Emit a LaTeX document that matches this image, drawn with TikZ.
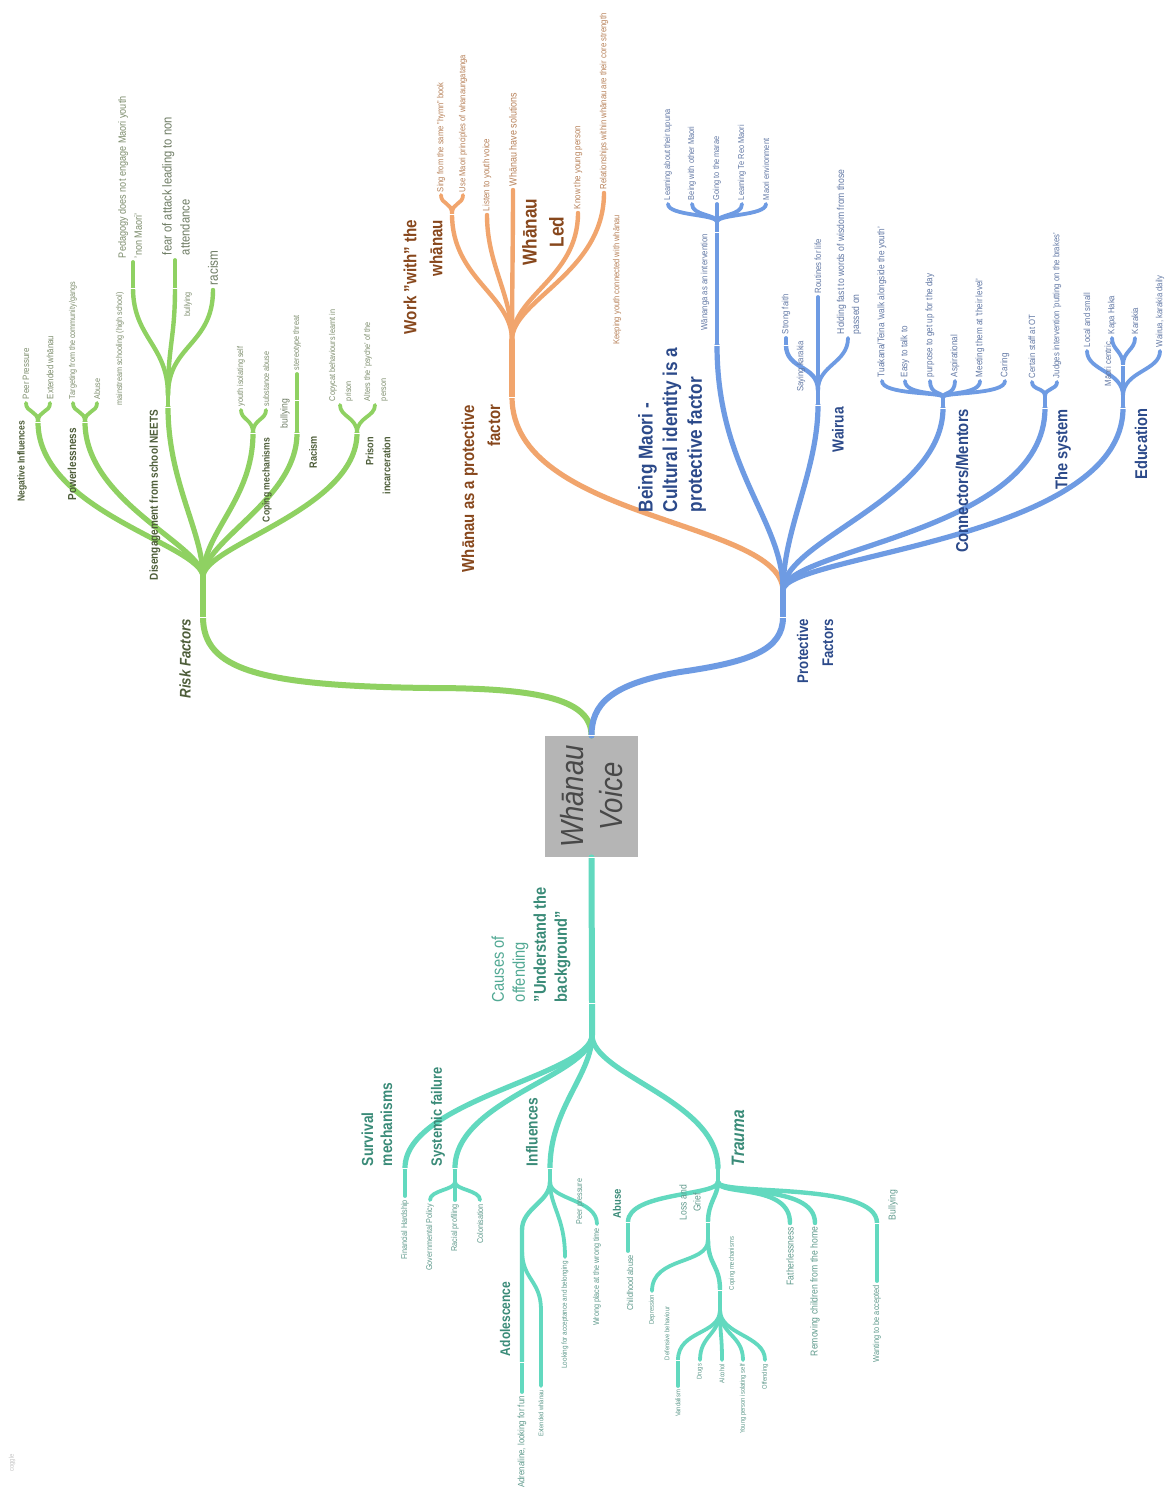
\documentclass[tikz,border=0pt]{standalone}
\usepackage{fontspec}
\setmainfont{Liberation Sans}[FakeStretch=0.86]
\newcommand{\fz}[2]{\fontsize{#1pt}{#2pt}\selectfont}
\newcommand{\brkmark}[1]{\draw[white, line width=0.5pt] (#1) ++(-4,0) -- ++(8,0);}

\definecolor{gLine}{HTML}{8FD162}
\definecolor{gDark}{HTML}{4E5E3A}
\definecolor{gText}{HTML}{7E8E6E}
\definecolor{gMid}{HTML}{6E7C64}
\definecolor{oLine}{HTML}{F1A56D}
\definecolor{oDark}{HTML}{87471C}
\definecolor{oText}{HTML}{B8825A}
\definecolor{bLine}{HTML}{6E9BE3}
\definecolor{bDark}{HTML}{2C4A8A}
\definecolor{bText}{HTML}{6379A5}
\definecolor{tLine}{HTML}{62D9BF}
\definecolor{tDark}{HTML}{3A8B78}
\definecolor{tSoft}{HTML}{52A994}
\definecolor{tText}{HTML}{5F9A8C}
\definecolor{hubFill}{HTML}{B5B5B5}
\definecolor{hubText}{HTML}{484848}

\begin{document}
\begin{tikzpicture}[x=0.5pt, y=-0.5pt,
  ln/.style={line cap=round, line join=round},
  w1/.style={ln, line width=3pt},
  w2/.style={ln, line width=2.6pt},
  w3/.style={ln, line width=2.2pt},
  w4/.style={ln, line width=1.9pt},
  rot/.style={rotate=90, inner sep=0pt, outer sep=0pt},
  % green tree text
  gB/.style={rot, text=gDark, font=\bfseries\fz{5.3}{8.5}},
  gL/.style={rot, text=gText, font=\fz{4.2}{8}},
  gM/.style={rot, text=gMid, font=\fz{6.5}{9}},
  % orange tree text
  oB/.style={rot, text=oDark, font=\bfseries\fz{8.7}{13}},
  oL/.style={rot, text=oText, font=\fz{4.4}{6}},
  % blue tree text
  bB/.style={rot, text=bDark, font=\bfseries\fz{8.5}{12}},
  bL/.style={rot, text=bText, font=\fz{4.5}{7.5}},
  % teal tree text
  tB/.style={rot, text=tDark, font=\bfseries\fz{8}{9.5}},
  tL/.style={rot, text=tText, font=\fz{4.2}{6}},
  tS/.style={rot, text=tText, font=\fz{3.4}{5}},
  hub/.style={fill=hubFill, minimum width=46.5pt, minimum height=60.5pt, inner sep=0pt}
]
\fill[white] (0,0) rectangle (1171,1488);
\useasboundingbox (0,0) rectangle (1171,1488);

% ---------- central topic ----------
\node[hub] (hubbox) at (591.5,796.5) {};
\node[rot, text=hubText, font=\itshape\fz{16}{19.5}, align=center] (hubtext) at (hubbox.center) {Whānau\\Voice};
\coordinate (ct) at (hubbox.north);
\coordinate (cb) at (hubbox.south);

% ---------- Risk Factors (green) ----------
\coordinate (gm) at (430,688);
\coordinate (rf) at (203,617);
\coordinate (rfan) at (203,577);
\coordinate (ni) at (38,422);  \coordinate (ni1) at (26,403);  \coordinate (ni2) at (50,403);
\coordinate (pw) at (85,422);  \coordinate (pw1) at (73,403);  \coordinate (pw2) at (97,403);
\coordinate (dis) at (168,407); \coordinate (disj) at (168,395);
\coordinate (ms) at (133,288); \coordinate (ms1) at (133,262);
\coordinate (bu) at (175,288); \coordinate (bu1) at (175,260);
\coordinate (rc) at (213,290);
\coordinate (cm) at (253,433); \coordinate (cm1) at (241,410); \coordinate (cm2) at (266,410);
\coordinate (ra) at (297,433); \coordinate (rab) at (297,400); \coordinate (ra1) at (297,374);
\coordinate (pr) at (357,433); \coordinate (pr1) at (340,405); \coordinate (pr2) at (375,405);

\draw[w1, gLine] (ct) .. controls +(0,-36) and +(110,0) .. (gm) .. controls +(-170,-2) and +(0,53) .. (rf);
\draw[w1, gLine] (rf) -- (rfan);
\draw[w2, gLine] (rfan) .. controls +(0,-32) and +(0,90) .. (ni);
\draw[w2, gLine] (rfan) .. controls +(0,-32) and +(0,80) .. (pw);
\draw[w2, gLine] (rfan) .. controls +(0,-45) and +(0,75) .. (dis);
\draw[w2, gLine] (rfan) .. controls +(0,-45) and +(0,67) .. (cm);
\draw[w2, gLine] (rfan) .. controls +(0,-37) and +(0,67) .. (ra);
\draw[w2, gLine] (rfan) .. controls +(0,-32) and +(0,77) .. (pr);
\draw[w4, gLine] (ni) .. controls +(0,-12) and +(0,10) .. (ni1);
\draw[w4, gLine] (ni) .. controls +(0,-12) and +(0,10) .. (ni2);
\draw[w4, gLine] (pw) .. controls +(0,-12) and +(0,10) .. (pw1);
\draw[w4, gLine] (pw) .. controls +(0,-12) and +(0,10) .. (pw2);
\draw[w3, gLine] (dis) -- (disj);
\draw[w3, gLine] (disj) .. controls +(0,-50) and +(0,50) .. (ms);
\draw[w3, gLine] (disj) .. controls +(0,-50) and +(0,50) .. (bu);
\draw[w3, gLine] (disj) .. controls +(0,-50) and +(0,55) .. (rc);
\draw[w4, gLine] (ms) -- (ms1);
\draw[w4, gLine] (bu) -- (bu1);
\draw[w4, gLine] (cm) .. controls +(0,-14) and +(0,10) .. (cm1);
\draw[w4, gLine] (cm) .. controls +(0,-14) and +(0,10) .. (cm2);
\draw[w3, gLine] (ra) -- (rab);
\draw[w4, gLine] (rab) -- (ra1);
\draw[w4, gLine] (pr) .. controls +(0,-16) and +(0,12) .. (pr1);
\draw[w4, gLine] (pr) .. controls +(0,-16) and +(0,12) .. (pr2);

\node[gB, font=\bfseries\itshape\fz{7.7}{9}, anchor=east] (tRF) at (185,619) {Risk Factors};
\node[gB, font=\bfseries\fz{5}{6}, anchor=east] (tNI) at (22,421) {Negative Influences};
\node[gL, font=\fz{4.6}{6}, anchor=west] (tPP) at (26,399) {Peer Pressure};
\node[gL, font=\fz{4.6}{6}, anchor=west] (tEW) at (50,399) {Extended whānau};
\node[gB, font=\bfseries\fz{5.8}{8.5}, anchor=east] (tPW) at (72,428) {Powerlessness};
\node[gL, anchor=west] (tTG) at (73,399) {Targeting from the community/gangs};
\node[gL, anchor=west] (tAB) at (97,399) {Abuse};
\node[gB, font=\bfseries\fz{5.8}{8.5}, anchor=east] (tDS) at (155,410) {Disengagement from school NEETS};
\node[gL, anchor=east] (tMS) at (120,292) {mainstream schooling (high school)};
\node[gL, font=\fz{5.3}{8}, anchor=west, align=left] (tPD) at (130,258) {Pedagogy does not engage Maori youth\\'non Maori'};
\node[gL, anchor=east] (tBU) at (188,292) {bullying};
\node[gM, anchor=west, align=left] (tFA) at (176,255) {fear of attack leading to non\\attendance};
\node[gM, font=\fz{6.8}{8}, anchor=west] (tRC) at (213,285) {racism};
\node[gB, font=\bfseries\fz{5}{6}, anchor=east] (tCM) at (267,438) {Coping mechanisms};
\node[gL, anchor=west] (tYI) at (241,406) {youth isolating self};
\node[gL, anchor=west] (tSA) at (266,406) {substance abuse};
\node[gB, anchor=east] (tRA) at (313,436) {Racism};
\node[gL, font=\fz{5}{6}, text=gMid, anchor=east] (tBY) at (285,399) {bullying};
\node[gL, anchor=west] (tST) at (297,370) {stereotype threat};
\node[gB, anchor=east, align=right] (tPI) at (378,437) {Prison\\incarceration};
\node[gL, anchor=west, align=left] (tCC) at (341,401) {Copycat behaviours learnt in\\prison};
\node[gL, anchor=west, align=left] (tAP) at (376,401) {Alters the 'psyche' of the\\person};

% ---------- Protective Factors (blue) ----------
\coordinate (bq) at (680,672);
\coordinate (pf) at (783,617);
\coordinate (pf2) at (783,590);
\coordinate (bm) at (717,345); \coordinate (wn) at (717,232); \coordinate (wnj) at (717,222);
\coordinate (b1) at (668,204); \coordinate (b2) at (692,204); \coordinate (b3) at (717,204);
\coordinate (b4) at (742,204); \coordinate (b5) at (766,204);
\coordinate (wa) at (818,405); \coordinate (waj) at (818,390);
\coordinate (sk) at (786,345); \coordinate (sk1) at (786,338);
\coordinate (rt) at (818,297); \coordinate (hf) at (848,338);
\coordinate (cn) at (943,408); \coordinate (cnj) at (943,397);
\coordinate (c1) at (882,381); \coordinate (c2) at (905,381); \coordinate (c3) at (930,381);
\coordinate (c4) at (955,381); \coordinate (c5) at (980,381); \coordinate (c6) at (1005,381);
\coordinate (sy) at (1045,408); \coordinate (syj) at (1045,396);
\coordinate (sy1) at (1032,382); \coordinate (sy2) at (1057,382);
\coordinate (ed) at (1123,408); \coordinate (edj) at (1123,396);
\coordinate (ed1) at (1087,351); \coordinate (mc) at (1123,365);
\coordinate (ed2) at (1112,338); \coordinate (ed3) at (1135,338); \coordinate (ed4) at (1160,351);

% ---------- Whanau as a protective factor (orange) ----------
\coordinate (wf) at (512,397);
\coordinate (wfan) at (512,340);
\coordinate (wk) at (452,214); \coordinate (wk1) at (441,195); \coordinate (wk2) at (463,195);
\coordinate (ly) at (487,215);
\coordinate (ws) at (513,190);
\coordinate (kp) at (578,213);
\coordinate (rl) at (604,193);

\draw[w2, oLine] (pf2) .. controls +(-3,-70) and +(0,123) .. (wf);
\draw[w2, oLine] (wf) -- (wfan);
\draw[w3, oLine] (wfan) .. controls +(0,-45) and +(0,65) .. (wk);
\draw[w3, oLine] (wfan) .. controls +(0,-45) and +(0,50) .. (ly);
\draw[w3, oLine] (wfan) .. controls +(0,-45) and +(0,50) .. (ws);
\draw[w3, oLine] (wfan) .. controls +(0,-45) and +(0,65) .. (kp);
\draw[w3, oLine] (wfan) .. controls +(0,-40) and +(0,80) .. (rl);
\draw[w4, oLine] (wk) .. controls +(0,-12) and +(0,10) .. (wk1);
\draw[w4, oLine] (wk) .. controls +(0,-12) and +(0,10) .. (wk2);

\node[oB, anchor=east, align=right] (tWF) at (481,405) {Whānau as a protective\\factor};
\node[oB, font=\bfseries\fz{8.8}{13}, anchor=east, align=right] (tWK) at (423,220) {Work "with" the\\whānau};
\node[oL, anchor=west] (tSG) at (441,192) {Sing from the same "hymn" book};
\node[oL, anchor=west] (tUM) at (463,192) {Use Maori principles of whanaungatanga};
\node[oL, font=\fz{4.6}{6}, anchor=west] (tLY) at (487,211) {Listen to youth voice};
\node[oL, font=\fz{5.2}{6}, anchor=west] (tWS) at (513,186) {Whānau have solutions};
\node[oB, font=\bfseries\fz{10}{13.5}, align=center] (tWL) at (543,232) {Whānau\\Led};
\node[oL, font=\fz{4.6}{6}, anchor=west] (tKY) at (578,209) {Know the young person};
\node[oL, font=\fz{4.5}{6}, anchor=west] (tRS) at (604,189) {Relationships within whānau are their core strength};
\node[oL, font=\fz{4.4}{6}, anchor=east] (tKC) at (617,215) {Keeping youth connected with whānau};

% blue branches
\draw[w1, bLine] (ct) .. controls +(0,-31) and +(-70,12) .. (bq) .. controls +(70,-10) and +(0,33) .. (pf);
\draw[w1, bLine] (pf) -- (pf2);
\draw[w2, bLine] (pf2) .. controls +(0,-70) and +(0,125) .. (bm);
\draw[w3, bLine] (bm) -- (wnj);
\foreach \b in {b1,b2,b3,b4,b5} {
  \draw[w4, bLine] (wnj) .. controls +(0,-8) and +(0,12) .. (\b);
}
\draw[w2, bLine] (pf2) .. controls +(0,-60) and +(0,65) .. (wa);
\draw[w3, bLine] (wa) -- (waj);
\draw[w3, bLine] (waj) .. controls +(0,-25) and +(0,25) .. (sk);
\draw[w4, bLine] (sk) -- (sk1);
\draw[w4, bLine] (waj) -- (rt);
\draw[w4, bLine] (waj) .. controls +(0,-25) and +(0,25) .. (hf);
\draw[w2, bLine] (pf2) .. controls +(0,-50) and +(0,90) .. (cn);
\foreach \c in {c1,c2,c3,c4,c5,c6} {
  \draw[w4, bLine] (cnj) .. controls +(0,-5) and +(0,14) .. (\c);
}
\draw[w3, bLine] (cn) -- (cnj);
\draw[w2, bLine] (pf2) .. controls +(2,-42) and +(0,125) .. (sy);
\draw[w3, bLine] (sy) -- (syj);
\draw[w4, bLine] (syj) .. controls +(0,-8) and +(0,8) .. (sy1);
\draw[w4, bLine] (syj) .. controls +(0,-8) and +(0,8) .. (sy2);
\draw[w2, bLine] (pf2) .. controls +(2,-35) and +(0,132) .. (ed);
\draw[w3, bLine] (ed) -- (edj);
\draw[w4, bLine] (edj) .. controls +(0,-25) and +(0,20) .. (ed1);
\draw[w3, bLine] (edj) -- (mc);
\draw[w4, bLine] (mc) .. controls +(0,-14) and +(0,12) .. (ed2);
\draw[w4, bLine] (mc) .. controls +(0,-14) and +(0,12) .. (ed3);
\draw[w4, bLine] (edj) .. controls +(0,-25) and +(0,20) .. (ed4);

\node[bB, font=\bfseries\fz{7.7}{12.5}, anchor=east, align=right] (tPF) at (815,619) {Protective\\Factors};
\node[bB, font=\bfseries\fz{10}{12.3}, anchor=west, align=left] (tBM) at (672,512) {Being Maori -\\Cultural identity is a\\protective factor};
\node[bL, anchor=east] (tWN) at (705,234) {Wānanga as an intervention};
\node[bL, font=\fz{4.3}{6}, anchor=west] (tL1) at (668,200) {Learning about their tupuna};
\node[bL, font=\fz{4.3}{6}, anchor=west] (tL2) at (692,200) {Being with other Maori};
\node[bL, font=\fz{4.3}{6}, anchor=west] (tL3) at (717,200) {Going to the marae};
\node[bL, font=\fz{4.3}{6}, anchor=west] (tL4) at (742,200) {Learning Te Reo Maori};
\node[bL, font=\fz{4.3}{6}, anchor=west] (tL5) at (766,200) {Maori environment};
\node[bB, font=\bfseries\fz{8}{10}, anchor=east] (tWA) at (838,407) {Wairua};
\node[bL, anchor=west] (tSF) at (786,334) {Strong faith};
\node[bL, anchor=east] (tSK) at (801,341) {Saying karakia};
\node[bL, anchor=west] (tRL) at (818,293) {Routines for life};
\node[bL, font=\fz{5}{7.5}, anchor=west, align=left] (tHF) at (849,334) {Holding fast to words of wisdom from those\\passed on};
\node[bB, font=\bfseries\fz{8.6}{10}, anchor=east] (tCN) at (962,409) {Connectors/Mentors};
\node[bL, font=\fz{4.8}{6}, anchor=west] (tC1) at (882,377) {Tuakana/Teina 'walk alongside the youth'};
\node[bL, font=\fz{4.7}{6}, anchor=west] (tC2) at (905,377) {Easy to talk to};
\node[bL, font=\fz{4.7}{6}, anchor=west] (tC3) at (930,377) {purpose to get up for the day};
\node[bL, font=\fz{4.7}{6}, anchor=west] (tC4) at (955,377) {Aspirational};
\node[bL, font=\fz{4.7}{6}, anchor=west] (tC5) at (980,377) {Meeting them at 'their level'};
\node[bL, font=\fz{4.7}{6}, anchor=west] (tC6) at (1005,377) {Caring};
\node[bB, anchor=east] (tSY) at (1063,409) {The system};
\node[bL, anchor=west] (tS1) at (1032,378) {Certain staff at OT};
\node[bL, anchor=west] (tS2) at (1057,378) {Judges intervention 'putting on the brakes'};
\node[bB, anchor=east] (tED) at (1141,409) {Education};
\node[bL, anchor=east] (tMC) at (1108,342) {Māori centric};
\node[bL, anchor=west] (tE1) at (1087,347) {Local and small};
\node[bL, anchor=west] (tE2) at (1112,334) {Kapa Haka};
\node[bL, anchor=west] (tE3) at (1135,334) {Karakia};
\node[bL, anchor=west] (tE4) at (1160,347) {Wairua, karakia daily};

% ---------- Causes of offending (teal) ----------
\coordinate (co) at (592,1003); \coordinate (cfan) at (592,1035);
\coordinate (sv) at (405,1168); \coordinate (sv1) at (405,1196);
\coordinate (sf) at (455,1168); \coordinate (sfj) at (455,1182);
\coordinate (sf1) at (430,1200); \coordinate (sf2) at (455,1200); \coordinate (sf3) at (480,1200);
\coordinate (in) at (550,1168); \coordinate (inj) at (550,1182);
\coordinate (adv) at (522,1230); \coordinate (ad) at (522,1362); \coordinate (ad1) at (522,1392);
\coordinate (ad0) at (522,1250); \coordinate (exv) at (541,1310); \coordinate (ex) at (541,1386);
\coordinate (la) at (565,1257);
\coordinate (wp) at (597,1224);
\coordinate (tr) at (718,1168); \coordinate (tfan) at (718,1182);
\coordinate (ab) at (628,1222); \coordinate (ab1) at (628,1251);
\coordinate (lg) at (708,1222); \coordinate (lgj) at (708,1240);
\coordinate (dp) at (652,1291);
\coordinate (cp) at (720,1290); \coordinate (cpj) at (720,1310);
\coordinate (df) at (678,1360); \coordinate (df1) at (678,1386);
\coordinate (k2) at (700,1360); \coordinate (k3) at (722,1360);
\coordinate (k4) at (743,1360); \coordinate (k5) at (765,1360);
\coordinate (fl) at (790,1223); \coordinate (rm) at (815,1223);
\coordinate (bl) at (877,1223); \coordinate (bl1) at (877,1281);

\draw[w1, tLine] (cb) -- (co) -- (cfan);
\draw[w2, tLine] (cfan) .. controls +(0,40) and +(0,-68) .. (sv);
\draw[w2, tLine] (cfan) .. controls +(0,40) and +(0,-68) .. (sf);
\draw[w2, tLine] (cfan) .. controls +(0,40) and +(0,-60) .. (in);
\draw[w2, tLine] (cfan) .. controls +(0,40) and +(0,-68) .. (tr);
\draw[w4, tLine] (sv) -- (sv1);
\draw[w3, tLine] (sf) -- (sfj);
\draw[w4, tLine] (sfj) .. controls +(0,8) and +(0,-10) .. (sf1);
\draw[w4, tLine] (sfj) -- (sf2);
\draw[w4, tLine] (sfj) .. controls +(0,8) and +(0,-10) .. (sf3);
\draw[w3, tLine] (in) -- (inj);
\draw[w3, tLine] (inj) .. controls +(0,20) and +(0,-22) .. (adv) -- (ad);
\draw[w4, tLine] (ad) -- (ad1);
\draw[w4, tLine] (ad0) .. controls +(0,30) and +(0,-30) .. (exv) -- (ex);
\draw[w4, tLine] (inj) .. controls +(0,25) and +(0,-40) .. (la);
\draw[w4, tLine] (inj) .. controls +(0,18) and +(0,-25) .. (wp);
\draw[w3, tLine] (tr) -- (tfan);
\draw[w3, tLine] (tfan) .. controls +(0,14) and +(0,-30) .. (ab);
\draw[w4, tLine] (ab) -- (ab1);
\draw[w3, tLine] (tfan) .. controls +(0,14) and +(0,-20) .. (lg);
\draw[w3, tLine] (lg) -- (lgj);
\draw[w4, tLine] (lgj) .. controls +(0,25) and +(0,-35) .. (dp);
\draw[w3, tLine] (lgj) .. controls +(0,25) and +(0,-25) .. (cp);
\draw[w3, tLine] (cp) -- (cpj);
\draw[w4, tLine] (cpj) .. controls +(0,25) and +(0,-30) .. (df);
\draw[w4, tLine] (df) -- (df1);
\foreach \k in {k2,k3,k4,k5} {
  \draw[w4, tLine] (cpj) .. controls +(0,25) and +(0,-25) .. (\k);
}
\draw[w3, tLine] (tfan) .. controls +(0,14) and +(0,-40) .. (fl);
\draw[w3, tLine] (tfan) .. controls +(0,14) and +(0,-40) .. (rm);
\draw[w3, tLine] (tfan) .. controls +(0,14) and +(0,-42) .. (bl);
\draw[w4, tLine] (bl) -- (bl1);

\node[tB, font=\fz{8.5}{10.5}, text=tSoft, anchor=west, align=left] (tCO) at (531,1002)
  {Causes of\\offending\\\textcolor{tDark}{\bfseries "Understand the}\\\textcolor{tDark}{\bfseries background"}};
\node[tB, anchor=west, align=left] (tSV) at (377,1166) {Survival\\mechanisms};
\node[tB, font=\bfseries\fz{7.5}{9}, anchor=west] (tSFL) at (438,1166) {Systemic failure};
\node[tB, anchor=west] (tIN) at (532,1166) {Influences};
\node[tB, font=\bfseries\itshape\fz{9}{10}, anchor=west] (tTR) at (738,1166) {Trauma};
\node[tL, anchor=east] (tFH) at (405,1200) {Financial Hardship};
\node[tL, anchor=east] (tGP) at (430,1204) {Governmental Policy};
\node[tL, anchor=east] (tRP) at (455,1204) {Racial profiling};
\node[tL, anchor=east] (tCL) at (480,1204) {Colonisation};
\node[tL, font=\fz{3.7}{5}, anchor=east] (tLA) at (565,1261) {Looking for acceptance and belonging};
\node[tL, anchor=west] (tPPr) at (580,1224) {Peer pressure};
\node[tL, anchor=east] (tWP) at (597,1228) {Wrong place at the wrong time};
\node[tB, font=\bfseries\fz{7}{8}, anchor=west] (tAD) at (505,1356) {Adolescence};
\node[tL, font=\fz{4.6}{6}, anchor=east] (tAF) at (522,1396) {Adrenaline, looking for fun};
\node[tS, anchor=east] (tEX) at (541,1390) {Extended whānau};
\node[tB, font=\bfseries\fz{5.5}{6.5}, anchor=west] (tAB2) at (617,1218) {Abuse};
\node[tL, font=\fz{4.3}{6}, anchor=east] (tCA) at (630,1255) {Childhood abuse};
\node[tL, font=\fz{5}{7}, anchor=west, align=center] (tLG) at (690,1220) {Loss and\\Grief};
\node[tS, anchor=east] (tDP) at (652,1295) {Depression};
\node[tS, anchor=west] (tCP) at (732,1290) {Coping mechanisms};
\node[tS, anchor=west] (tDB) at (667,1360) {Defensive behaviour};
\node[tS, anchor=east] (tVD) at (678,1390) {Vandalism};
\node[tS, anchor=east] (tDR) at (700,1364) {Drugs};
\node[tS, anchor=east] (tAL) at (722,1364) {Alcohol};
\node[tS, anchor=east] (tYP) at (743,1364) {Young person isolating self};
\node[tS, anchor=east] (tOF) at (765,1364) {Offending};
\node[tL, font=\fz{5}{6}, anchor=east] (tFL) at (790,1227) {Fatherlessness};
\node[tL, font=\fz{5}{6}, anchor=east] (tRM) at (815,1227) {Removing children from the home};
\node[tL, font=\fz{5}{6}, anchor=west] (tBL) at (893,1220) {Bullying};
\node[tL, font=\fz{4.3}{6}, anchor=east] (tWB) at (877,1285) {Wanting to be accepted};

% ---------- small gaps where branches meet their topics ----------
\foreach \p in {rf,pf,co,ni,pw,dis,ms,bu,cm,ra,rab,pr,wf,wk,bm,wn,wa,sk,cn,sy,ed,mc,
                sv,sf,in,ad,ab,lg,cp,df,bl,ct,cb} {
  \brkmark{\p}
}

% ---------- watermark ----------
\node[rot, text=black!22, font=\fz{3.5}{4}] (wmark) at (12,1463) {coggle};
\end{tikzpicture}
\end{document}
